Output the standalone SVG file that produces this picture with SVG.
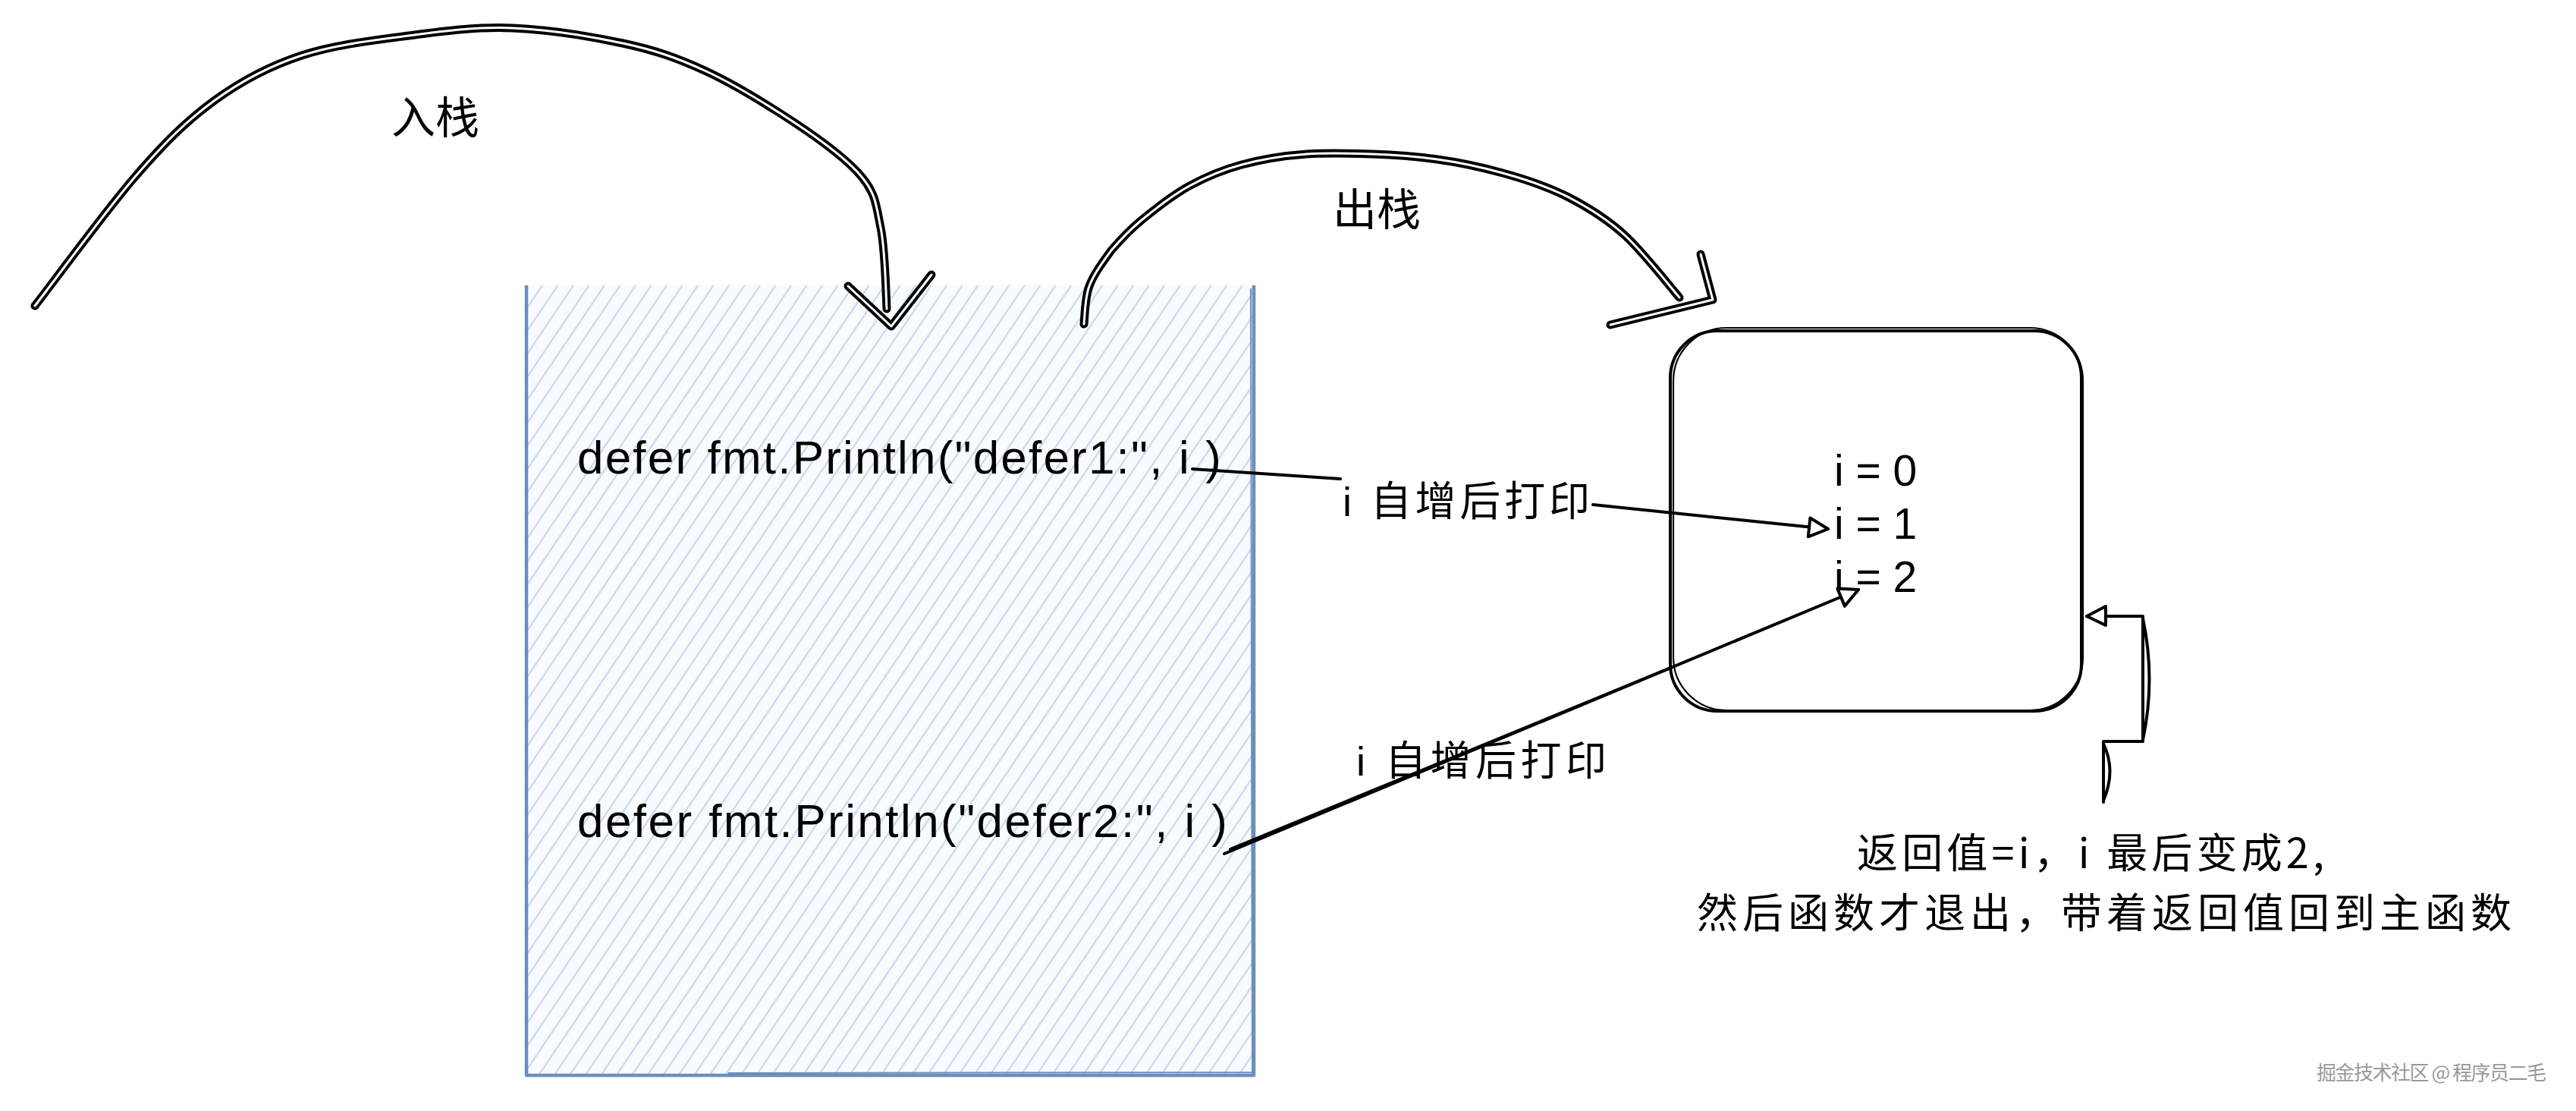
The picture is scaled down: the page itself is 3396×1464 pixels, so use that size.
<svg xmlns="http://www.w3.org/2000/svg" xmlns:xlink="http://www.w3.org/1999/xlink" width="3396" height="1464" viewBox="0 0 3396 1464">
  <style>
    .hollow-outer { fill: none; stroke: #000; stroke-width: 11; stroke-linecap: round; stroke-linejoin: round; }
    .hollow-inner { fill: none; stroke: #fff; stroke-width: 3; stroke-linecap: round; stroke-linejoin: round; }
    .conn { fill: none; stroke: #000; stroke-width: 4; stroke-linecap: round; stroke-linejoin: round; }
    .code { font-family: "Liberation Sans", "DejaVu Sans", sans-serif; font-size: 62px; fill: #000; }
    .lbl { font-family: "Liberation Sans", "Noto Sans CJK SC", sans-serif; fill: #000; }
    .cjk { font-family: "Noto Sans CJK SC", "Liberation Sans", sans-serif; fill: #000; }
    .val { font-family: "Liberation Sans", sans-serif; font-size: 57px; fill: #000; }
  </style>
  <defs>
    <pattern id="hatch" width="17" height="17" patternUnits="userSpaceOnUse" patternTransform="rotate(34)">
      <rect width="17" height="17" fill="#f8fbff"/>
      <line x1="4" y1="0" x2="4" y2="17" stroke="#c7d7f1" stroke-width="2.2"/>
    </pattern>
    <marker id="tri" viewBox="0 0 30 30" refX="28" refY="15" markerWidth="30" markerHeight="30" markerUnits="userSpaceOnUse" orient="auto">
      <path d="M3,3 L28,15 L3,28 Z" fill="#fff" stroke="#000" stroke-width="4" stroke-linejoin="round"/>
    </marker>
    <path id="arcPush" d="M46,403 C68,375 139,278 178,233 C217,188 245,160 282,133 C319,106 355,87 398,73 C441,59 493,53 539,47 C585,41 629,35 676,37 C723,39 779,48 821,57 C863,66 892,76 929,93 C966,110 1010,137 1045,160 C1080,183 1117,210 1136,233 C1155,256 1155,271 1161,300 C1167,329 1168,389 1169,407"/>
    <path id="headPush" d="M1118,377 L1175,430 L1228,362"/>
    <path id="arcPop" d="M1429,427 C1430,419 1430,393 1436,377 C1442,361 1454,345 1465,330 C1477,316 1488,304 1505,290 C1522,276 1546,257 1568,245 C1590,233 1611,224 1637,217 C1663,210 1694,205 1723,203 C1752,201 1780,202 1809,203 C1838,204 1866,206 1895,210 C1924,214 1952,220 1981,228 C2010,236 2041,246 2068,260 C2095,274 2118,288 2142,310 C2166,332 2202,378 2214,392"/>
    <path id="headPop" d="M2242,335 L2258,395 L2123,428"/>
  </defs>

  <rect width="3396" height="1464" fill="#fff"/>

  <g id="node-stack">
    <rect x="694" y="376" width="959" height="1041" fill="url(#hatch)"/>
    <path d="M694,376 L694,1417 L1653,1417 L1653,376" fill="none" stroke="#6c8ebf" stroke-width="4.5" stroke-linejoin="round"/>
    <path d="M1649,380 L1651,1415 M960,1414 L1650,1413" fill="none" stroke="#6c8ebf" stroke-width="2"/>
    <text class="code" x="761" y="624" textLength="849" lengthAdjust="spacing">defer fmt.Println("defer1:", i )</text>
    <text class="code" x="761" y="1103" textLength="857" lengthAdjust="spacing">defer fmt.Println("defer2:", i )</text>
  </g>

  <g id="node-result">
    <rect x="2202" y="436" width="542" height="501" rx="62" ry="62" fill="none" stroke="#000" stroke-width="4"/>
    <rect x="2206" y="432" width="540" height="504" rx="70" ry="70" fill="none" stroke="#000" stroke-width="2.2"/>
    <text class="val" x="2418" y="640">i = 0</text>
    <text class="val" x="2418" y="710">i = 1</text>
    <text class="val" x="2418" y="780">i = 2</text>
  </g>

  <g id="label-push">
    <text class="cjk" x="574" y="176" font-size="58" text-anchor="middle">入栈</text>
  </g>
  <g id="label-pop">
    <text class="cjk" x="1815" y="297" font-size="58" text-anchor="middle">出栈</text>
  </g>
  <g id="label-inc1">
    <text class="lbl" x="1770" y="680" font-size="54" textLength="326" lengthAdjust="spacing">i 自增后打印</text>
  </g>
  <g id="label-inc2">
    <text class="lbl" x="1788" y="1022" font-size="54" textLength="330" lengthAdjust="spacing">i 自增后打印</text>
  </g>
  <g id="label-return">
    <text class="cjk" x="2448" y="1144" font-size="54" textLength="616" lengthAdjust="spacing">返回值=i，i 最后变成2,</text>
    <text class="cjk" x="2237" y="1223" font-size="54" textLength="1074" lengthAdjust="spacing">然后函数才退出，带着返回值回到主函数</text>
  </g>

  <g id="connectors">
    <g id="edge-push">
      <use xlink:href="#arcPush" class="hollow-outer"/>
      <use xlink:href="#arcPush" class="hollow-inner"/>
      <use xlink:href="#headPush" class="hollow-outer"/>
      <use xlink:href="#headPush" class="hollow-inner"/>
    </g>
    <g id="edge-pop">
      <use xlink:href="#arcPop" class="hollow-outer"/>
      <use xlink:href="#arcPop" class="hollow-inner"/>
      <use xlink:href="#headPop" class="hollow-outer"/>
      <use xlink:href="#headPop" class="hollow-inner"/>
    </g>
    <path id="edge-defer1-label" class="conn" d="M1572,618 L1767,631"/>
    <path id="edge-label-i1" class="conn" d="M2100,665 L2410,697" stroke-width="5.5" marker-end="url(#tri)"/>
    <g id="edge-defer2-i2">
      <path class="conn" d="M1614,1125 L2450,777" marker-end="url(#tri)"/>
      <path class="conn" d="M1622,1119 L2200,881" stroke-width="2"/>
    </g>
    <g id="edge-return">
      <path class="conn" d="M2773,1057 L2773,977 L2825,977 L2825,812 L2751,812" marker-end="url(#tri)"/>
      <path class="conn" d="M2825,815 Q2842,895 2825,975 M2773,980 Q2790,1015 2773,1055" stroke-width="3"/>
    </g>
  </g>

  <g id="watermark">
    <text x="3054" y="1423" font-family="Noto Sans CJK SC, sans-serif" font-size="26" fill="#9a9a9a" textLength="303" lengthAdjust="spacing">掘金技术社区 @ 程序员二毛</text>
  </g>
</svg>
